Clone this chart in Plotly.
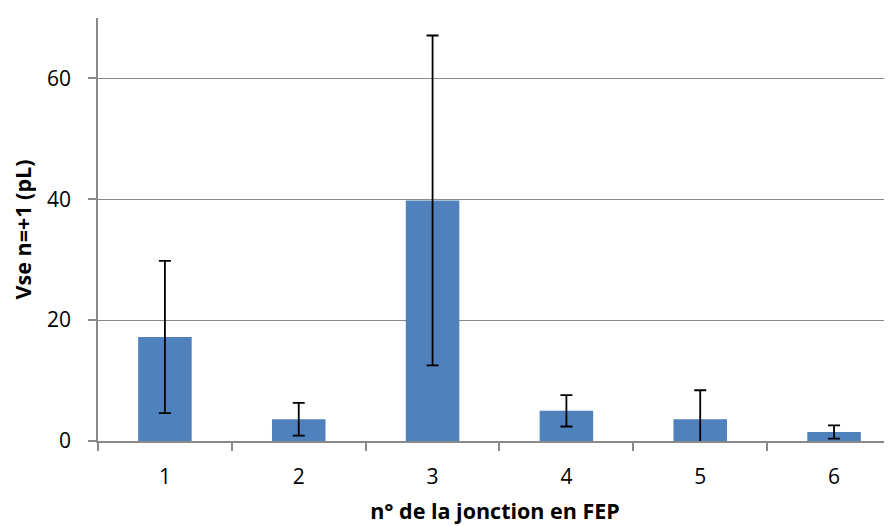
import plotly.graph_objects as go

categories = ["1", "2", "3", "4", "5", "6"]
values = [17.2, 3.6, 39.8, 5.0, 3.6, 1.5]
errors = [12.6, 2.7, 27.3, 2.6, 4.8, 1.1]
y_ticks = [0, 20, 40, 60]

fig = go.Figure()
fig.add_trace(go.Bar(
    x=categories, y=values,
    marker=dict(color="#4F81BD", line=dict(width=0)),
    width=0.4,
    error_y=dict(type="data", array=errors, visible=True, color="black", thickness=1.8, width=6),
))

axis_color = "#898989"
fig.update_layout(
    width=892, height=526,
    margin=dict(l=90, r=8, t=10, b=93),
    paper_bgcolor="white", plot_bgcolor="white",
    showlegend=False,
    font=dict(family="Open Sans, sans-serif", color="black"),
    xaxis=dict(
        type="category",
        range=[-0.5, 5.433],
        tickson="boundaries",
        ticks="outside", ticklen=8, tickcolor=axis_color, tickwidth=1.5,
        showline=True, linecolor=axis_color, linewidth=1.5,
        showgrid=False,
        tickfont=dict(size=21),
        ticklabelstandoff=16,
        title=dict(text="<b>n° de la jonction en FEP</b>", font=dict(size=21.5), standoff=15),
    ),
    yaxis=dict(
        range=[0, 70],
        tickvals=y_ticks,
        ticks="outside", ticklen=8, tickcolor=axis_color, tickwidth=1.5,
        showline=True, linecolor=axis_color, linewidth=1.5,
        showgrid=True, gridcolor=axis_color, gridwidth=1.2,
        zeroline=False,
        tickfont=dict(size=21),
        ticklabelstandoff=13,
        title=dict(text="<b>Vse n=+1 (pL)</b>", font=dict(size=21.5), standoff=14),
    ),
)

fig.write_html("out.html")
